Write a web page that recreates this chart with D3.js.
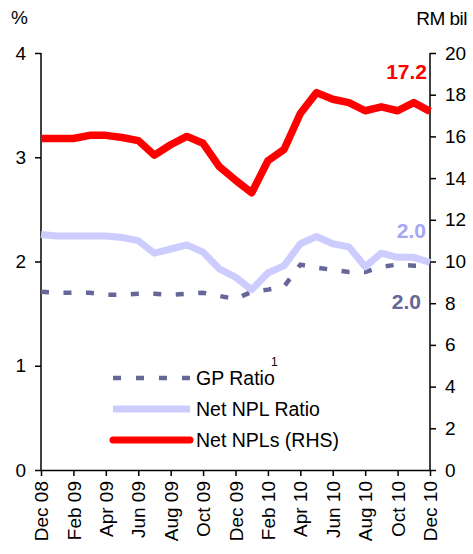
<!DOCTYPE html>
<html>
<head>
<meta charset="utf-8">
<script src="https://cdn.jsdelivr.net/npm/d3@7"></script>
<style>
  html, body { margin: 0; padding: 0; background: #fff; }
  svg { display: block; font-family: "Liberation Sans", Arial, sans-serif; }
</style>
</head>
<body>
<svg id="chart" width="473" height="554"></svg>
<script>
// Monthly observations, Dec 2008 – Dec 2010
const months = [
  "Dec 08","Jan 09","Feb 09","Mar 09","Apr 09","May 09","Jun 09","Jul 09","Aug 09","Sep 09","Oct 09","Nov 09",
  "Dec 09","Jan 10","Feb 10","Mar 10","Apr 10","May 10","Jun 10","Jul 10","Aug 10","Sep 10","Oct 10","Nov 10","Dec 10"
];
// Gross provisions ratio, % (left axis)
const gpRatio = [1.71,1.70,1.70,1.70,1.68,1.68,1.69,1.69,1.68,1.69,1.70,1.67,1.64,1.71,1.73,1.76,1.97,1.94,1.92,1.90,1.90,1.95,1.97,1.96,1.96];
// Net NPL ratio, % (left axis)
const netNplRatio = [2.26,2.245,2.245,2.245,2.245,2.23,2.20,2.08,2.12,2.16,2.09,1.93,1.85,1.73,1.89,1.96,2.17,2.24,2.17,2.14,1.95,2.08,2.04,2.04,1.99];
// Net NPLs, RM billion (right axis)
const netNpls = [15.9,15.9,15.9,16.05,16.05,15.95,15.8,15.1,15.6,16.0,15.67,14.55,13.9,13.3,14.83,15.38,17.1,18.1,17.78,17.62,17.23,17.42,17.23,17.62,17.2];

const leftTicks = [0,1,2,3,4];
const rightTicks = [0,2,4,6,8,10,12,14,16,18,20];
const xTickLabels = months.filter((m, i) => i % 2 === 0);

const svg = d3.select("#chart");
const plotLeft = 41, plotRight = 430, plotTop = 53, plotBottom = 470;

const x = d3.scalePoint().domain(months).range([plotLeft, plotRight]);
const yL = d3.scaleLinear().domain([0, 4]).range([plotBottom, plotTop]);
const yR = d3.scaleLinear().domain([0, 20]).range([plotBottom, plotTop]);

const fs = 19;

// Left axis
const gL = svg.append("g").attr("transform", `translate(${plotLeft},0)`)
  .call(d3.axisLeft(yL).tickValues(leftTicks).tickSize(6).tickPadding(9).tickFormat(d3.format("d")));
// Right axis
const gR = svg.append("g").attr("transform", `translate(${plotRight},0)`)
  .call(d3.axisRight(yR).tickValues(rightTicks).tickSize(6).tickPadding(9).tickFormat(d3.format("d")));
// Bottom axis
const gB = svg.append("g").attr("transform", `translate(0,${plotBottom})`)
  .call(d3.axisBottom(x).tickValues(xTickLabels).tickSize(6).tickSizeOuter(0));
gB.selectAll("text")
  .attr("transform", "rotate(-90)")
  .attr("text-anchor", "end")
  .attr("x", -11)
  .attr("y", 0)
  .attr("dy", "0.35em");

[gL, gR, gB].forEach(g => {
  g.selectAll("path.domain").attr("stroke", "#000").attr("stroke-width", 1.5);
  g.selectAll(".tick line").attr("stroke", "#000").attr("stroke-width", 1.5);
  g.selectAll("text").attr("fill", "#000").style("font-size", fs + "px")
    .style("font-family", "'Liberation Sans', Arial, sans-serif");
});
gL.select("path.domain").attr("d", `M0,${plotBottom}V${plotTop}`);
gR.select("path.domain").attr("d", `M0,${plotBottom}V${plotTop}`);

// Axis unit captions
svg.append("text").attr("x", 11).attr("y", 24).text("%")
  .style("font-size", fs + "px").attr("fill", "#000");
svg.append("text").attr("x", 467).attr("y", 25).attr("text-anchor", "end").text("RM bil")
  .style("font-size", fs + "px").attr("fill", "#000").attr("letter-spacing", "-0.5");

// Series lines
const lineL = d3.line().x((d, i) => x(months[i])).y(d => yL(d));
const lineR = d3.line().x((d, i) => x(months[i])).y(d => yR(d));

svg.append("path").datum(gpRatio).attr("d", lineL)
  .attr("fill", "none").attr("stroke", "#666699").attr("stroke-width", 4.5)
  .attr("stroke-dasharray", "8,14.5");
svg.append("path").datum(netNplRatio).attr("d", lineL)
  .attr("fill", "none").attr("stroke", "#ccccff").attr("stroke-width", 7)
  .attr("stroke-linejoin", "round");
svg.append("path").datum(netNpls).attr("d", lineR)
  .attr("fill", "none").attr("stroke", "#ff0000").attr("stroke-width", 7.5)
  .attr("stroke-linejoin", "round");

// End-point value labels
const last = months.length - 1;
const lfs = 21;
svg.append("text").attr("x", x(months[last]) - 3).attr("y", yR(netNpls[last]) - 32)
  .attr("text-anchor", "end").attr("fill", "#ff0000").style("font-weight", "bold")
  .style("font-size", lfs + "px").text(d3.format(".1f")(netNpls[last]));
svg.append("text").attr("x", x(months[last]) - 4).attr("y", yL(netNplRatio[last]) - 25)
  .attr("text-anchor", "end").attr("fill", "#a6a6f2").style("font-weight", "bold")
  .style("font-size", lfs + "px").text(d3.format(".1f")(netNplRatio[last]));
svg.append("text").attr("x", x(months[last]) - 9).attr("y", yL(gpRatio[last]) + 43)
  .attr("text-anchor", "end").attr("fill", "#666699").style("font-weight", "bold")
  .style("font-size", lfs + "px").text(d3.format(".1f")(gpRatio[last]));

// Legend
const legend = [
  { name: "GP Ratio", color: "#666699", width: 4.5, dash: "8,15", sup: "1", y: 378 },
  { name: "Net NPL Ratio", color: "#ccccff", width: 7, dash: null, y: 409 },
  { name: "Net NPLs (RHS)", color: "#ff0000", width: 7, dash: null, cap: "round", y: 440 }
];
const lg = svg.append("g");
legend.forEach(d => {
  lg.append("line").attr("x1", 113).attr("x2", 190).attr("y1", d.y).attr("y2", d.y)
    .attr("stroke", d.color).attr("stroke-width", d.width)
    .attr("stroke-dasharray", d.dash)
    .attr("stroke-linecap", d.cap || "butt");
  lg.append("text").attr("x", 196).attr("y", d.y + 7)
    .style("font-size", "19.5px").attr("fill", "#000").text(d.name);
  if (d.sup) {
    lg.append("text").attr("x", 271).attr("y", d.y - 12)
      .style("font-size", "12px").attr("fill", "#000").text(d.sup);
  }
});
</script>
</body>
</html>
